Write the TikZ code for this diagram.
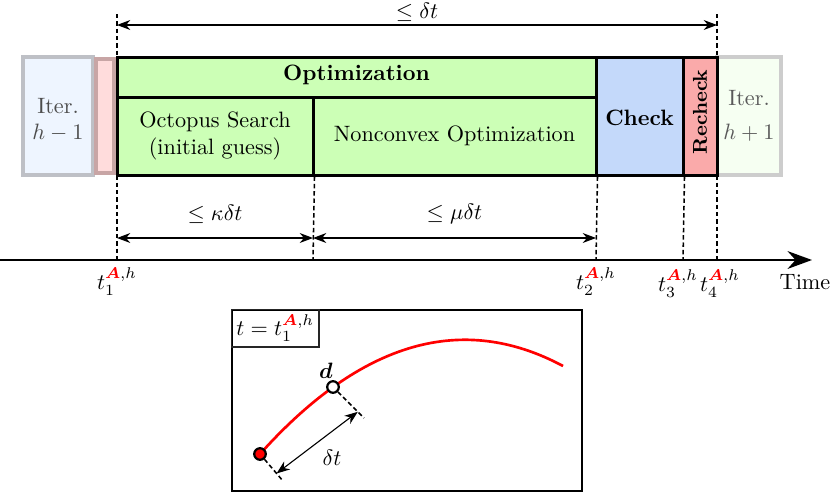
\documentclass[tikz,border=0pt]{standalone}
\usepackage{amsmath,bm}
\usetikzlibrary{arrows.meta,fit,calc}
\definecolor{optgreen}{RGB}{204,255,182}
\definecolor{chkblue}{RGB}{196,217,250}
\definecolor{rchkred}{RGB}{250,170,170}
\definecolor{prevblue}{RGB}{238,245,255}
\definecolor{prevborder}{RGB}{190,192,198}
\definecolor{prevpink}{RGB}{255,220,220}
\definecolor{pinkborder}{RGB}{200,165,165}
\definecolor{nextgreen}{RGB}{246,255,242}
\definecolor{nextborder}{RGB}{205,205,205}
\newcommand{\tA}[1]{$t_{#1}^{\textcolor{red}{\bm{A}},h}$}
\begin{document}
\begin{tikzpicture}[x=0.45pt,y=-0.45pt,
  blk/.style={draw=black,line width=1.35pt,inner sep=0pt},
  ghost/.style={line width=1.8pt,inner sep=0pt},
  boxtext/.style={align=center,inner sep=1pt},
  vdash/.style={dash pattern=on 2pt off 1.3pt,line width=0.7pt},
  dimarrow/.style={{Stealth[length=6pt,width=4.5pt]}-{Stealth[length=6pt,width=4.5pt]},line width=0.5pt},
  tlab/.style={anchor=north,inner sep=1pt},
  mark dot/.style={circle,draw=black,line width=1pt,minimum size=5.2pt,inner sep=0pt}]
\useasboundingbox (0,0) rectangle (830,493);

% ghost boxes
\node[ghost,draw=prevborder,fill=prevblue,fit={(23,57)(93,175)}] (prev) {};
\node[boxtext,text=black!70] (prevT) at ($(prev.center)+(0,4)$) {Iter.\\ $h-1$};
\node[ghost,draw=pinkborder,fill=prevpink,fit={(96,59)(114,173)}] (prevr) {};
\node[ghost,draw=nextborder,fill=nextgreen,fit={(717,57)(781,175)}] (next) {};
\node[boxtext,text=black!65] (nextT) at (next.center) {Iter.\\[3pt] $h+1$};

% main boxes
\node[blk,fill=optgreen,fit={(117,57)(596,97)}] (opt) {};
\node[blk,fill=optgreen,fit={(117,97)(313,175)}] (oct) {};
\node[blk,fill=optgreen,fit={(313,97)(596,175)}] (ncv) {};
\node[blk,fill=chkblue,fit={(596,57)(683,175)}] (chk) {};
\node[blk,fill=rchkred,fit={(683,57)(717,175)}] (rchk) {};
\node[boxtext,font=\bfseries] (optT) at ($(opt.center)+(0,-2)$) {Optimization};
\node[boxtext] (octT) at (oct.center) {Octopus Search\\(initial guess)};
\node[boxtext] (ncvT) at (ncv.center) {Nonconvex Optimization};
\node[boxtext,font=\bfseries] (chkT) at ($(chk.center)+(0,2)$) {Check};
\node[rotate=90,font=\small\bfseries] (rchkT) at ($(rchk.center)+(0,-4)$) {Recheck};

% time axis
\coordinate (axL) at (0,260);
\coordinate (axR) at (812,260);
\draw[line width=1pt,-{Stealth[length=11pt,width=8pt]}] (axL) -- (axR);
\node (time) at (805,282) {Time};

% tick coordinates
\coordinate (a1) at (117,260);
\coordinate (a2) at (313,260);
\coordinate (a3) at (596,260);
\coordinate (a4) at (683,260);
\coordinate (a5) at (717,260);
\coordinate (top1) at (117,14);
\coordinate (top5) at (717,14);

\draw[vdash] (top1) -- (a1);
\draw[vdash] (top5) -- (a5);
\draw[vdash] (oct.south east) -- (a2);
\draw[vdash] (ncv.south east) -- (a3);
\draw[vdash] (chk.south east) -- (a4);

% top dimension
\coordinate (d1) at (117,25);
\coordinate (d2) at (717,25);
\draw[dimarrow] (d1) -- (d2);
\node[inner sep=0.3pt] (dtop) at (417,12) {$\leq \delta t$};

% lower dimensions
\coordinate (k1) at (117,238);
\coordinate (k2) at (313,238);
\coordinate (k3) at (596,238);
\draw[dimarrow] (k1) -- (k2) node[midway,above=3pt] (kap) {$\leq \kappa\delta t$};
\draw[dimarrow] (k2) -- (k3) node[midway,above=3pt] (mu) {$\leq \mu\delta t$};

% time labels
\node[tlab] (t1) at ($(a1)+(0,5)$) {\tA{1}};
\node[tlab] (t2) at ($(a3)+(0,5)$) {\tA{2}};
\node[tlab] (t3) at ($(a4)+(-5,7)$) {\tA{3}};
\node[tlab] (t4) at ($(a5)+(3,7)$) {\tA{4}};

% bottom panel
\node[draw=black,line width=1.1pt,fit={(232,310)(582,491)},inner sep=0pt] (panel) {};
\node[draw=black!85,line width=0.7pt,anchor=north west,inner sep=2.2pt] (tlabel) at (panel.north west) {$t = t_1^{\textcolor{red}{\bm{A}},h}$};

\coordinate (cEnd) at (563,366);
\draw[red,line width=1.2pt] (260,454) .. controls (361,341.5) and (462,312) .. (cEnd);
\node[mark dot,fill=red] (p0) at (260,454) {};
\node[mark dot,fill=white] (pd) at (333,387) {};
\node (dlab) at (326,371) {$\bm{d}$};

\coordinate (p0E) at (283,481);
\coordinate (pdE) at (364,418);
\draw[vdash] (p0) -- (p0E);
\draw[vdash] (pd) -- (pdE);
\coordinate (ar1) at ($(p0)!0.72!(p0E)$);
\coordinate (ar2) at ($(pd)!0.8!(pdE)$);
\draw[dimarrow] (ar1) -- (ar2);
\node (dtl) at (332,458) {$\delta t$};
\end{tikzpicture}
\end{document}
